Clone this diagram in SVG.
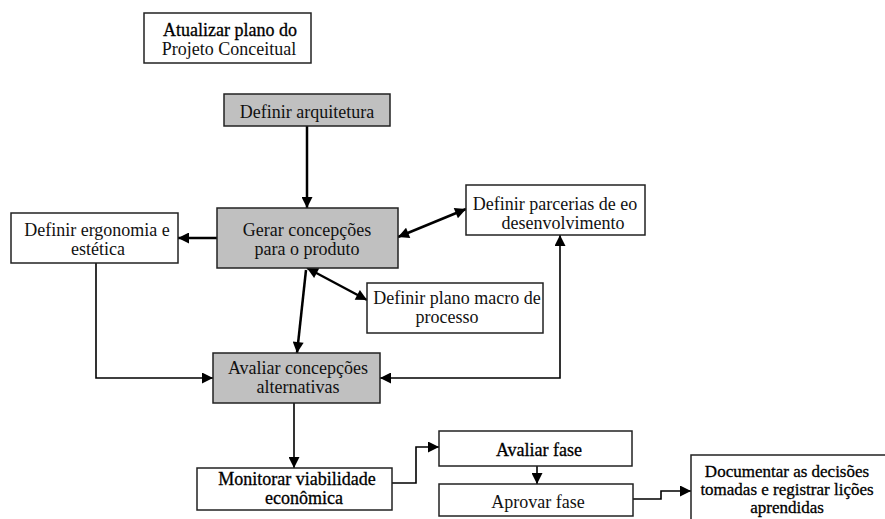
<svg xmlns="http://www.w3.org/2000/svg" width="885" height="519" viewBox="0 0 885 519" font-family="'Liberation Serif', 'DejaVu Serif', serif">
<style>
.box{fill:#fff;stroke:#222;stroke-width:1.5}
.gray{fill:#c0c0c0;stroke:#222;stroke-width:1.5}
text{font-family:'Liberation Serif','DejaVu Serif',serif;font-size:18px;fill:#111;text-anchor:middle}
.dk{fill:#000;stroke:#000;stroke-width:0.3}
.sm{font-size:17px}
.thick{fill:none;stroke:#000;stroke-width:2.5}
.thin{fill:none;stroke:#000;stroke-width:1.6}
</style>
<defs>
<marker id="ah" viewBox="0 0 10 10" refX="10" refY="5" markerWidth="12" markerHeight="11" markerUnits="userSpaceOnUse" orient="auto-start-reverse">
<path d="M0,0 L10,5 L0,10 z" fill="#000"/>
</marker>
</defs>
<rect width="885" height="519" fill="#fff"/>
<g id="connectors">
<line class="thick" x1="307" y1="126" x2="307" y2="208" marker-end="url(#ah)"/>
<line class="thick" x1="217" y1="238" x2="178" y2="238" marker-end="url(#ah)"/>
<line class="thick" x1="398" y1="237" x2="466" y2="209" marker-start="url(#ah)" marker-end="url(#ah)"/>
<line class="thick" x1="307" y1="268" x2="367" y2="300" marker-start="url(#ah)" marker-end="url(#ah)"/>
<line class="thick" x1="306" y1="270" x2="297" y2="353" marker-end="url(#ah)"/>
<polyline class="thin" points="96,263 96,378 213,378" marker-end="url(#ah)"/>
<polyline class="thin" points="380,378 560,378 560,235" marker-start="url(#ah)" marker-end="url(#ah)"/>
<line class="thin" x1="294" y1="403" x2="294" y2="468" marker-end="url(#ah)"/>
<polyline class="thin" points="392,483 416,483 416,447 439,447" marker-end="url(#ah)"/>
<line class="thin" x1="537" y1="466" x2="537" y2="484" marker-end="url(#ah)"/>
<polyline class="thin" points="633,499 661,499 661,491 691,491" marker-end="url(#ah)"/>
</g>
<g id="atualizar">
<rect class="box" x="144" y="13" width="167" height="50"/>
<text class="dk" x="230" y="36">Atualizar plano do</text>
<text x="229" y="55">Projeto Conceitual</text>
</g>
<g id="arquitetura">
<rect class="gray" x="224" y="94" width="166" height="32"/>
<text x="307" y="118">Definir arquitetura</text>
</g>
<g id="gerar">
<rect class="gray" x="217" y="208" width="181" height="60"/>
<text x="307" y="236">Gerar concepções</text>
<text x="307" y="255">para o produto</text>
</g>
<g id="ergonomia">
<rect class="box" x="11" y="213" width="167" height="50"/>
<text x="97" y="236">Definir ergonomia e</text>
<text x="98" y="255">estética</text>
</g>
<g id="parcerias">
<rect class="box" x="466" y="185" width="179" height="50"/>
<text x="555" y="210">Definir parcerias de eo</text>
<text x="563" y="229">desenvolvimento</text>
</g>
<g id="planomacro">
<rect class="box" x="367" y="283" width="176" height="50"/>
<text x="457" y="304">Definir plano macro de</text>
<text x="447" y="323">processo</text>
</g>
<g id="avaliarconc">
<rect class="gray" x="213" y="353" width="167" height="50"/>
<text x="298" y="374">Avaliar concepções</text>
<text x="298" y="393">alternativas</text>
</g>
<g id="monitorar">
<rect class="box" x="197" y="468" width="195" height="42"/>
<text class="dk" x="297" y="485">Monitorar viabilidade</text>
<text class="dk" x="304" y="504">econômica</text>
</g>
<g id="avaliarfase">
<rect class="box" x="439" y="431" width="193" height="35"/>
<text class="dk" x="539" y="456">Avaliar fase</text>
</g>
<g id="aprovarfase">
<rect class="box" x="439" y="484" width="194" height="32"/>
<text x="538" y="508">Aprovar fase</text>
</g>
<g id="documentar">
<rect class="box" x="691" y="455" width="200" height="75"/>
<text class="dk sm" x="787" y="477">Documentar as decisões</text>
<text class="dk sm" x="787" y="495">tomadas e registrar lições</text>
<text class="dk sm" x="787" y="513">aprendidas</text>
</g>
</svg>
